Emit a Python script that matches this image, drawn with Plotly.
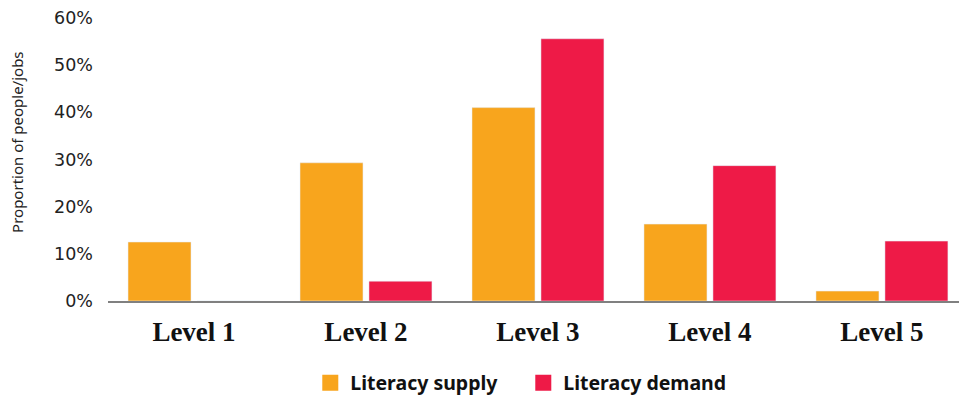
import plotly.graph_objects as go

categories = ["Level 1", "Level 2", "Level 3", "Level 4", "Level 5"]
supply = [0.125, 0.293, 0.410, 0.163, 0.021]
demand = [0.0, 0.042, 0.556, 0.287, 0.127]
y_ticks = [0, 0.1, 0.2, 0.3, 0.4, 0.5, 0.6]
y_ticktext = ["0%", "10%", "20%", "30%", "40%", "50%", "60%"]
series_names = ["Literacy supply", "Literacy demand"]
colors = ["#F8A51D", "#EE1A47"]

fig = go.Figure()
fig.add_trace(go.Bar(x=categories, y=supply, name=series_names[0], marker_color=colors[0], showlegend=False))
fig.add_trace(go.Bar(x=categories, y=demand, name=series_names[1], marker_color=colors[1], showlegend=False))
# legend entries with larger square swatches
for name, c in zip(series_names, colors):
    fig.add_trace(go.Scatter(x=[None], y=[None], mode="markers", name=name,
                             marker=dict(symbol="square", size=16, color=c)))

fig.update_layout(
    width=959, height=397,
    margin=dict(l=108, r=0, t=18, b=96, autoexpand=False),
    paper_bgcolor="white", plot_bgcolor="white",
    barmode="group", bargap=0.198, bargroupgap=0.087,
    showlegend=True,
    legend=dict(orientation="h", x=0.488, xanchor="center", y=-0.29, yanchor="middle",
                font=dict(family="Noto Sans", size=19.5, color="#111", weight="bold"),
                itemsizing="trace", entrywidth=168, entrywidthmode="pixels"),
    font=dict(family="Noto Sans", color="#222"),
    annotations=[dict(text="Proportion of people/jobs", textangle=-90, showarrow=False,
                      xref="paper", yref="paper", x=-0.107, y=0.562,
                      xanchor="center", yanchor="middle",
                      font=dict(family="Noto Sans", size=15, color="#222"))],
)
fig.update_xaxes(
    range=[-0.5, 4.448], showline=True, linecolor="#808080", linewidth=2,
    showgrid=False, ticks="", zeroline=False,
    tickfont=dict(family="Liberation Serif", size=27, color="#111", weight="bold"),
    ticklabelstandoff=6,
)
fig.update_yaxes(
    range=[0, 0.6], tickvals=y_ticks, ticktext=y_ticktext,
    showline=False, showgrid=False, zeroline=False, ticks="",
    tickfont=dict(family="DejaVu Sans", size=17.5, color="#222"),
    ticklabelstandoff=14,
)

fig.write_html("out.html")
